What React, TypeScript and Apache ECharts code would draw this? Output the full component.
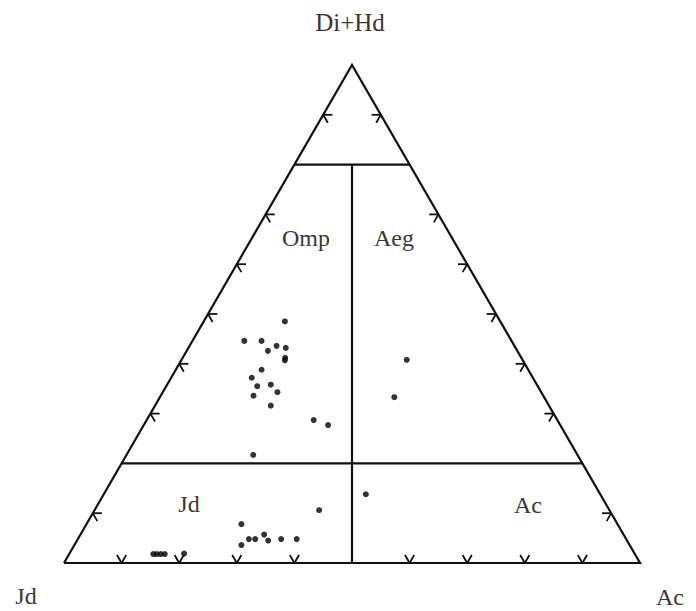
import React, { useEffect, useRef } from "react";
import * as echarts from "echarts";

// Ternary compositions (percent) of each sample: Di+Hd (Q), Jd, Ac (Ae)
const diHd = [48.5, 44.6, 44.6, 43.6, 43.2, 42.6, 41.2, 40.7, 38.8, 37.2, 35.5, 35.8, 34.3, 33.6, 31.6, 28.7, 27.7, 40.8, 33.3, 21.7, 13.8, 10.6, 7.8, 3.6, 4.8, 4.8, 5.7, 4.5, 4.8, 4.8, 1.8, 1.8, 1.8, 1.8, 1.9];
const acm = [14.1, 9.0, 12.0, 15.1, 16.9, 14.1, 17.8, 18.0, 14.9, 14.0, 15.8, 18.0, 19.9, 16.1, 20.1, 29.0, 32.0, 39.1, 40.7, 22.0, 45.5, 39.0, 26.9, 29.0, 29.7, 30.8, 31.9, 33.2, 35.3, 38.0, 14.6, 15.2, 15.9, 16.6, 19.9];
const jdm = [37.4, 46.4, 43.4, 41.3, 39.9, 43.3, 41.0, 41.3, 46.3, 48.8, 48.7, 46.2, 45.8, 50.3, 48.3, 42.3, 40.3, 20.1, 26.0, 56.3, 40.7, 50.4, 65.3, 67.4, 65.5, 64.4, 62.4, 62.3, 59.9, 57.2, 83.6, 83.0, 82.3, 81.6, 78.2];

// Field boundaries (percent Di+Hd) and tick positions (percent)
const upperBoundary = 80;
const lowerBoundary = 20;
const sideTicks = [10, 30, 40, 50, 60, 70, 90];
const baseTicks = [10, 20, 30, 40, 60, 70, 80, 90];

const vertexLabels = ["Di+Hd", "Jd", "Ac"];
const fieldLabels = ["Omp", "Aeg", "Jd", "Ac"];

const H = Math.sqrt(3) / 2;
// ternary -> cartesian (base length 100)
const tern = (q: number, ac: number): [number, number] => [ac + q / 2, q * H];

export default function App() {
  const ref = useRef<HTMLDivElement>(null);
  useEffect(() => {
    if (!ref.current) return;
    const chart = echarts.init(ref.current, undefined, { renderer: "svg" });

    const frame: { coords: [number, number][] }[] = [
      { coords: [tern(0, 0), tern(0, 100), tern(100, 0), tern(0, 0)] },
      { coords: [tern(upperBoundary, 0), tern(upperBoundary, 100 - upperBoundary)] },
      { coords: [tern(lowerBoundary, 0), tern(lowerBoundary, 100 - lowerBoundary)] },
      { coords: [tern(0, 50), tern(upperBoundary, 50 - upperBoundary / 2)] },
    ];

    const L = 1.6;
    const ticks: { coords: [number, number][] }[] = [];
    sideTicks.forEach((q) => {
      const [lx, ly] = tern(q, 0);
      ticks.push({ coords: [[lx, ly], [lx + L, ly]] });
      ticks.push({ coords: [[lx, ly], [lx + L / 2, ly - L * H]] });
      const [rx, ry] = tern(q, 100 - q);
      ticks.push({ coords: [[rx, ry], [rx - L, ry]] });
      ticks.push({ coords: [[rx, ry], [rx - L / 2, ry - L * H]] });
    });
    baseTicks.forEach((a) => {
      const [bx, by] = tern(0, a);
      ticks.push({ coords: [[bx, by], [bx - L / 2, by + L * H]] });
      ticks.push({ coords: [[bx, by], [bx + L / 2, by + L * H]] });
    });

    const points = diHd.map((q, i) => {
      const [x, y] = tern(q, acm[i]);
      return { value: [x, y, q, jdm[i], acm[i]] };
    });

    const font = "'Liberation Serif', 'Times New Roman', serif";
    const txt = (text: string, x: number, y: number, size: number) => ({
      type: "text",
      x,
      y,
      style: {
        text,
        fill: "#383838",
        font: `${size}px ${font}`,
        textAlign: "center",
        textVerticalAlign: "middle",
        align: "center",
        verticalAlign: "middle",
      },
    });

    chart.setOption({
      animation: false,
      backgroundColor: "#ffffff",
      grid: { left: 64, top: 65, width: 576, height: 498 },
      xAxis: { type: "value", min: 0, max: 100, show: false },
      yAxis: { type: "value", min: 0, max: 100 * H, show: false },
      graphic: [
        txt(vertexLabels[0], 350, 22, 25),
        txt(vertexLabels[1], 26, 596, 24),
        txt(vertexLabels[2], 670, 597, 24),
        txt(fieldLabels[0], 306, 238, 24),
        txt(fieldLabels[1], 394, 238, 24),
        txt(fieldLabels[2], 189, 504, 24),
        txt(fieldLabels[3], 528, 505, 24),
      ],
      series: [
        {
          type: "lines",
          coordinateSystem: "cartesian2d",
          polyline: true,
          clip: false,
          silent: true,
          lineStyle: { color: "#111", width: 2.2, opacity: 1, join: "miter" },
          data: frame,
        },
        {
          type: "lines",
          coordinateSystem: "cartesian2d",
          polyline: true,
          clip: false,
          silent: true,
          lineStyle: { color: "#111", width: 1.8, opacity: 1 },
          data: ticks,
        },
        {
          type: "scatter",
          clip: false,
          symbol: "circle",
          symbolSize: 6,
          itemStyle: { color: "#000" },
          data: points,
        },
      ],
    });
    return () => chart.dispose();
  }, []);
  return (
    <div
      ref={ref}
      style={{ position: "fixed", left: 0, top: 0, width: 696, height: 611, background: "#fff" }}
    />
  );
}
